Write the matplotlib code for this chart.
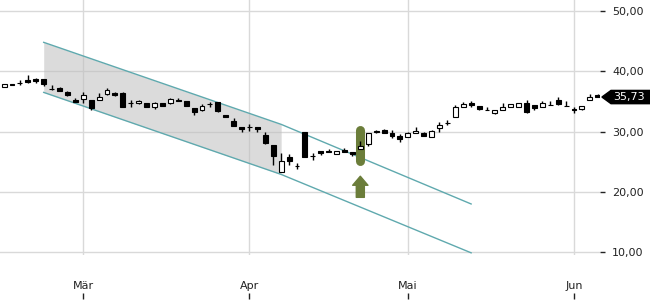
import numpy as np
import matplotlib.pyplot as plt
from matplotlib.patches import Polygon
from matplotlib.ticker import FuncFormatter
from matplotlib.transforms import blended_transform_factory


# daily candles (trading-day index 0..75)
opens = [37.45, 37.9, 38.0, 38.55, 38.7, 38.7, 37.05, 37.15, 36.6, 35.25,
         35.35, 35.25, 35.3, 36.25, 36.45, 36.45, 34.7, 34.7, 34.7, 34.0,
         34.7, 34.7, 35.2, 35.1, 33.85, 33.5, 34.5, 34.85, 32.75, 31.8,
         30.7, 30.7, 30.7, 29.45, 27.8, 23.35, 25.8, 24.3, 29.95, 25.9,
         26.75, 26.85, 26.35, 26.9, 26.55, 27.15, 27.9, 30.1, 30.25, 29.8,
         29.3, 29.1, 29.75, 29.85, 29.15, 30.55, 31.45, 32.5, 34.1, 34.7,
         34.25, 33.6, 33.05, 33.55, 34.05, 34.15, 34.8, 34.4, 34.15, 34.45,
         35.25, 34.3, 33.7, 33.8, 35.25, 36.0]
highs = [37.95, 37.95, 38.5, 39.4, 38.9, 38.75, 37.75, 37.45, 36.65, 35.55,
         36.5, 35.3, 36.45, 37.2, 36.6, 36.55, 35.2, 35.2, 34.75, 34.85,
         34.75, 35.6, 35.65, 35.15, 33.9, 34.6, 34.9, 34.9, 32.8, 32.2,
         30.75, 31.2, 30.75, 29.9, 27.85, 26.4, 26.25, 24.75, 30.0, 26.5,
         26.8, 27.1, 26.8, 27.2, 26.6, 28.5, 29.75, 30.3, 30.45, 30.3,
         29.6, 29.9, 30.75, 29.9, 30.2, 31.6, 31.9, 34.4, 34.85, 35.0,
         34.3, 34.1, 33.6, 34.7, 34.6, 34.75, 35.25, 34.45, 35.1, 35.0,
         35.8, 35.0, 34.05, 34.3, 36.25, 36.2]
lows = [37.4, 37.65, 37.8, 38.1, 38.1, 37.55, 36.95, 36.75, 35.95, 34.85,
        34.75, 33.65, 35.2, 36.15, 35.95, 34.05, 34.0, 34.5, 34.0, 33.7,
        34.2, 34.55, 35.1, 34.2, 32.7, 33.45, 34.15, 33.3, 32.35, 30.95,
        29.9, 30.1, 29.9, 28.0, 24.45, 23.3, 24.5, 23.75, 25.75, 25.35,
        26.2, 26.55, 26.3, 26.55, 26.0, 27.1, 27.6, 29.75, 29.7, 28.95,
        28.35, 29.05, 29.7, 29.3, 29.1, 30.0, 31.1, 32.45, 34.05, 34.1,
        33.65, 33.5, 33.0, 33.5, 34.0, 34.1, 33.1, 33.6, 34.1, 34.35,
        34.4, 34.2, 33.15, 33.5, 35.2, 35.7]
closes = [37.9, 37.7, 38.05, 38.3, 38.4, 37.85, 37.0, 36.8, 36.0, 34.9,
          36.05, 33.9, 35.8, 36.9, 36.0, 34.15, 34.75, 35.1, 34.05, 34.75,
          34.25, 35.35, 35.15, 34.25, 33.2, 34.2, 34.55, 33.35, 32.4, 31.0,
          30.4, 30.72, 30.4, 28.05, 26.0, 25.1, 25.1, 24.35, 25.8, 25.95,
          26.5, 26.6, 26.75, 26.6, 26.35, 27.6, 29.7, 30.0, 29.75, 29.2,
          28.75, 29.85, 30.1, 29.35, 30.15, 31.05, 31.5, 34.05, 34.5, 34.45,
          33.7, 33.55, 33.55, 34.1, 34.55, 34.7, 33.3, 33.9, 34.7, 34.4,
          34.6, 34.25, 33.5, 34.25, 35.8, 35.73]

month_idx = [10, 31, 51, 72]
month_names = ['Mär', 'Apr', 'Mai', 'Jun']
y_ticks = [10, 20, 30, 40, 50]

# trend channel: shaded part between the first two points, extension to the third
channel_idx = [5, 35, 59]
channel_upper = [44.8, 31.2, 18.0]
channel_lower = [36.5, 22.9, 9.9]

# breakout signal
signal_idx = 45
signal_top = 30.2
signal_bottom = 25.2
arrow_tip = 22.6
arrow_base = 19.1

last_price = 35.73

teal = '#5fa9ae'
green = '#6b7d3a'
text_col = '#222222'

fig = plt.figure(figsize=(6.5, 3), dpi=100)
ax = fig.add_axes([0, 0.15, 600 / 650, 0.85])

x = np.arange(len(closes))
o = np.array(opens)
h = np.array(highs)
l = np.array(lows)
c = np.array(closes)
up = c >= o

ax.set_xlim(-0.52, 75.28)
ax.set_ylim(9.54, 51.82)

for s in ax.spines.values():
    s.set_visible(False)
ax.set_yticks(y_ticks)
ax.set_xticks(month_idx)
ax.set_xticklabels(month_names)
ax.grid(color='#d9d9d9', lw=1)
ax.set_axisbelow(True)

ax.yaxis.tick_right()
ax.yaxis.set_major_formatter(FuncFormatter(lambda v, p: f'{v:.2f}'.replace('.', ',')))
ax.tick_params(axis='y', length=3.6, width=1, color=text_col, pad=5,
               labelsize=8, labelcolor=text_col)
ax.tick_params(axis='x', length=0, pad=19, labelsize=8, labelcolor=text_col)

# small month tick marks below the labels
sec = ax.secondary_xaxis(-0.1725)
sec.set_xticks(month_idx)
sec.tick_params(direction='in', length=4.3, width=1, color=text_col,
                labelbottom=False)
sec.spines['bottom'].set_visible(False)

# channel
ax.fill_between(channel_idx[:2], channel_lower[:2], channel_upper[:2],
                color='#bfbfbf', alpha=0.55, lw=0, zorder=1)
ax.plot(channel_idx, channel_upper, color=teal, lw=1, zorder=2)
ax.plot(channel_idx, channel_lower, color=teal, lw=1, zorder=2)

# signal marker + arrow
ax.plot([signal_idx, signal_idx], [signal_bottom, signal_top], color=green,
        lw=6.5, solid_capstyle='round', zorder=3)
ax.annotate('', xy=(signal_idx, arrow_tip), xytext=(signal_idx, arrow_base),
            arrowprops=dict(arrowstyle='simple,head_width=1.1,head_length=0.65,tail_width=0.58',
                            color=green, shrinkA=0, shrinkB=0, mutation_scale=10),
            zorder=3)

# candles
ax.vlines(x, l, h, color='black', lw=1, zorder=4)
ax.bar(x, np.maximum(np.abs(c - o), 0.03), bottom=np.minimum(o, c), width=0.62,
       color=np.where(up, 'white', 'black'), edgecolor='black', linewidth=0.8,
       zorder=5)

# last price tag
trans = blended_transform_factory(fig.transFigure, ax.transData)
hh = 1.1
tag = Polygon([(0.926, last_price), (0.94, last_price + hh), (1.0, last_price + hh),
               (1.0, last_price - hh), (0.94, last_price - hh)],
              closed=True, transform=trans, color='black', clip_on=False, zorder=6)
ax.add_patch(tag)
ax.text(0.944, last_price, f'{last_price:.2f}'.replace('.', ','), transform=trans,
        color='white', fontsize=8, va='center', ha='left', clip_on=False, zorder=7)

fig.savefig('out.png', dpi=100)
